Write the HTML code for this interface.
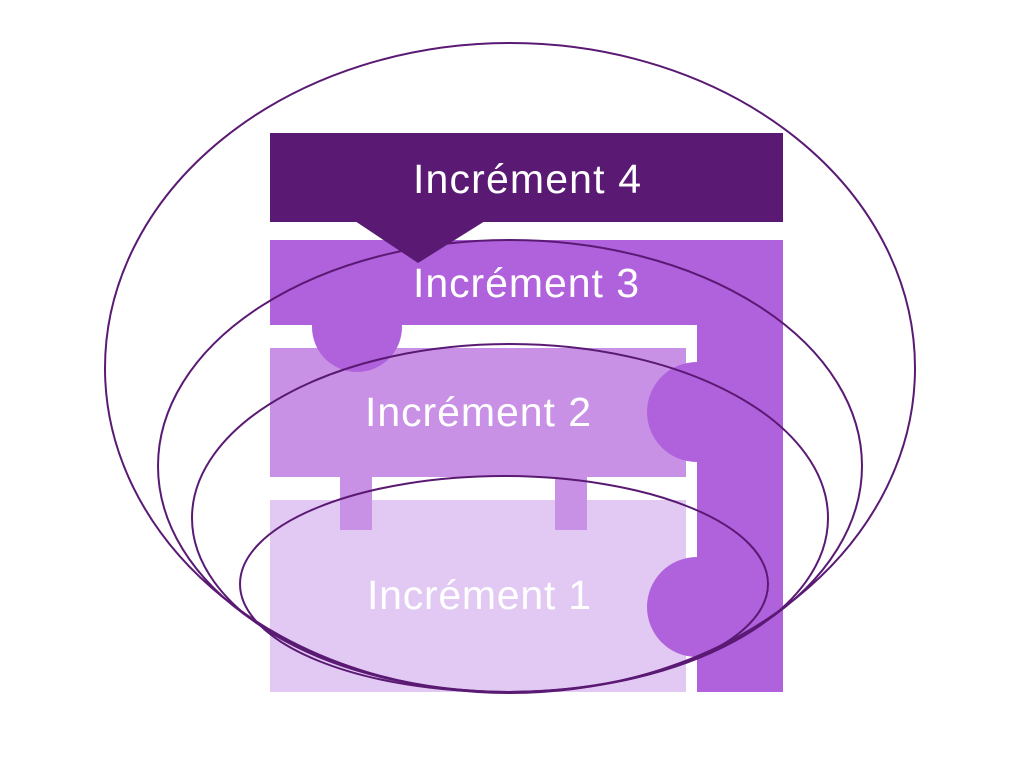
<!DOCTYPE html>
<html><head><meta charset="utf-8"><style>
html,body{margin:0;padding:0;background:#fff;}
svg{display:block}
text{font-family:"Liberation Sans","DejaVu Sans",sans-serif;fill:#fff;font-size:41px;text-anchor:middle}
</style></head><body>
<svg width="1024" height="758" viewBox="0 0 1024 758">
<rect x="270" y="500" width="416" height="192" fill="#e2c9f3"/>
<rect x="270" y="348" width="416" height="129" fill="#c891e5"/>
<rect x="340" y="476" width="32" height="54" fill="#c891e5"/>
<rect x="555" y="476" width="32" height="54" fill="#c891e5"/>
<g fill="#b061dc">
<rect x="270" y="240" width="513" height="85"/>
<rect x="697" y="240" width="86" height="452"/>
<circle cx="357" cy="327" r="45"/>
<path d="M697 362 A50 50 0 0 0 697 462 Z"/>
<path d="M697 557 A50 50 0 0 0 697 657 Z"/>
</g>
<rect x="270" y="133" width="513" height="89" fill="#5a1a74"/>
<polygon points="355,221 485,221 418,263" fill="#5a1a74"/>
<text x="527" y="193" textLength="228">Incrément 4</text>
<text x="526" y="297" textLength="226">Incrément 3</text>
<text x="478" y="426" textLength="226">Incrément 2</text>
<text x="479" y="609" textLength="224" fill="#f6eefc">Incrément 1</text>
<g fill="none" stroke="#5a1a74" stroke-width="2">
<ellipse cx="510" cy="368" rx="405" ry="325"/>
<ellipse cx="510" cy="466" rx="352" ry="226"/>
<ellipse cx="510" cy="518" rx="318" ry="174"/>
<ellipse cx="504" cy="584" rx="264" ry="108"/>
</g>
</svg>
</body></html>
